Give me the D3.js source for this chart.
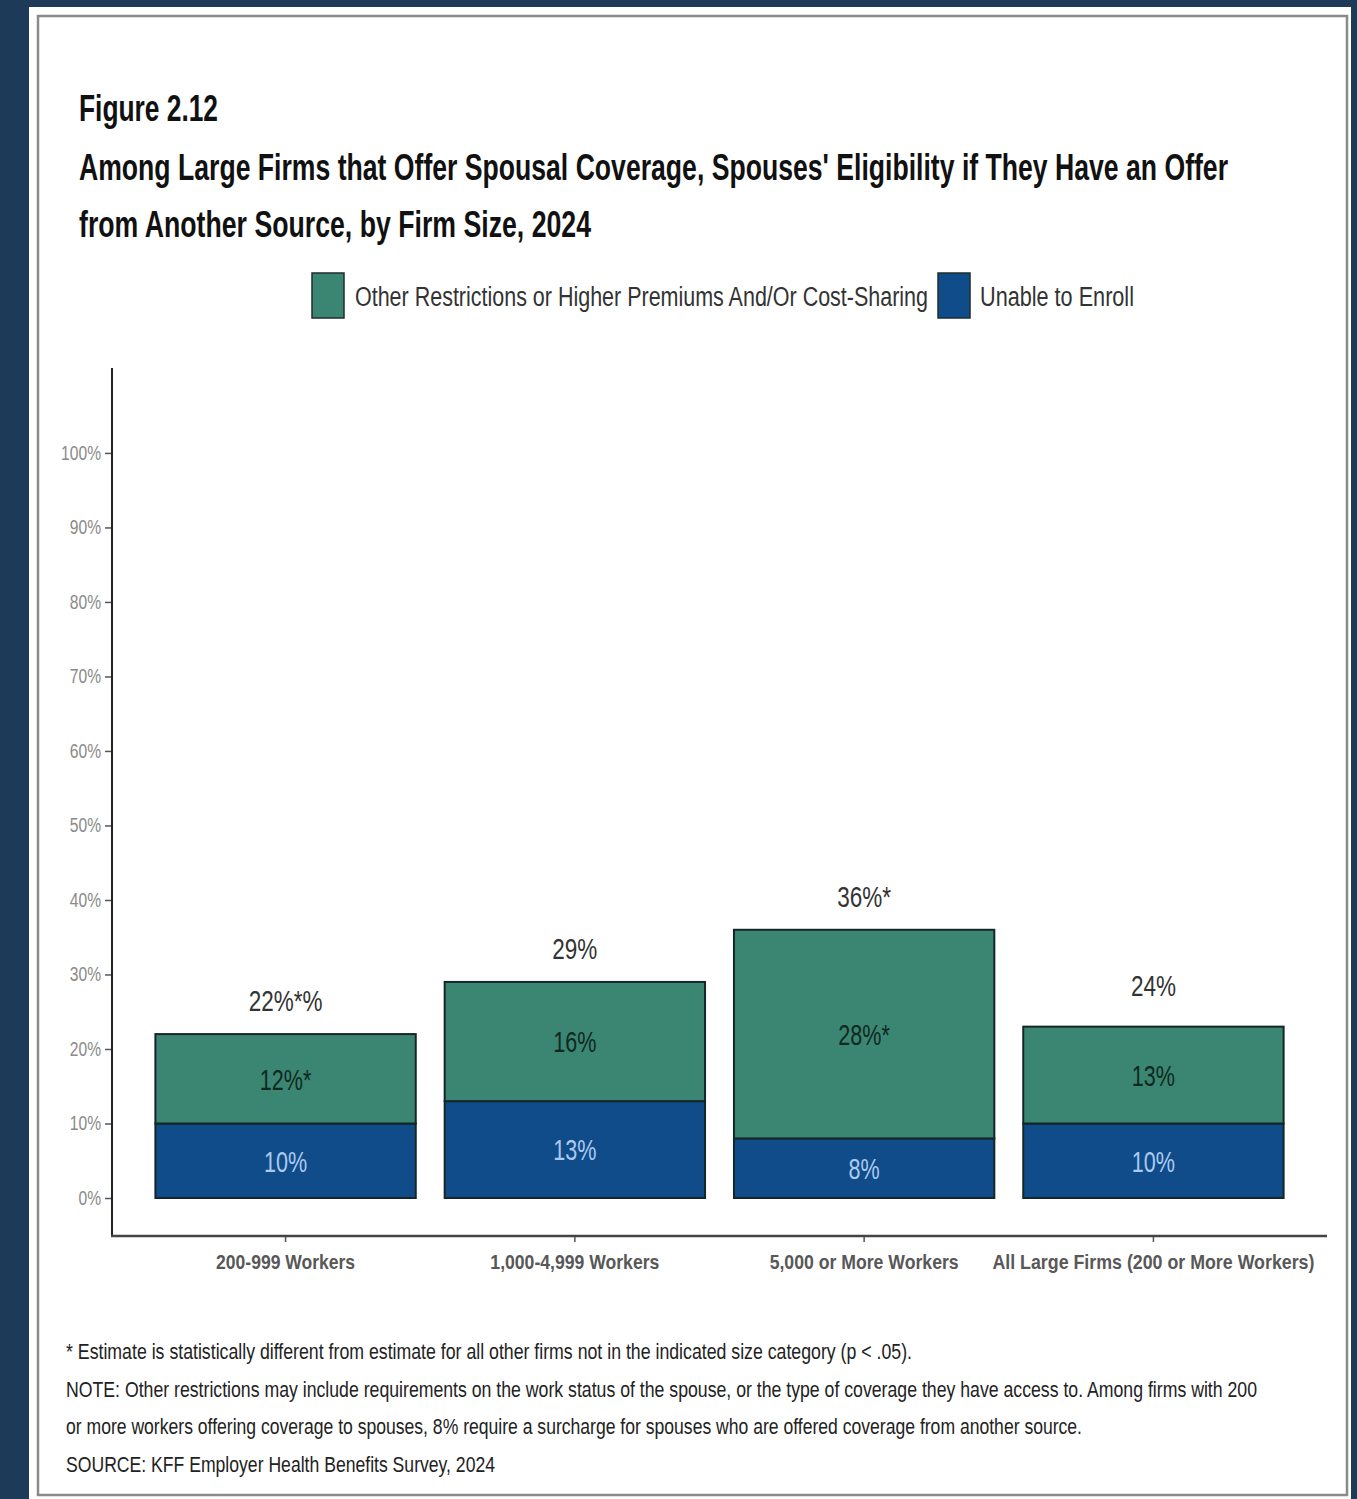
<!DOCTYPE html>
<html>
<head>
<meta charset="utf-8">
<script src="https://cdn.jsdelivr.net/npm/d3@7"></script>
<style>
  body { margin: 0; background: #1d3a58; }
  svg { display: block; }
  text { font-family: "Liberation Sans", Arial, sans-serif; }
</style>
</head>
<body>
<div id="chart"></div>
<script>
var width = 1357, height = 1499;

var categories = ["200-999 Workers", "1,000-4,999 Workers", "5,000 or More Workers", "All Large Firms (200 or More Workers)"];
var seriesNames = ["Other Restrictions or Higher Premiums And/Or Cost-Sharing", "Unable to Enroll"];
var unableValues = [10, 13, 8, 10];
var otherValues = [12, 16, 28, 13];
var unableLabels = ["10%", "13%", "8%", "10%"];
var otherLabels = ["12%*", "16%", "28%*", "13%"];
var totalValues = [22, 29, 36, 24];
var totalLabels = ["22%*%", "29%", "36%*", "24%"];
var yTicks = [0, 10, 20, 30, 40, 50, 60, 70, 80, 90, 100];
var notes = [
  "* Estimate is statistically different from estimate for all other firms not in the indicated size category (p < .05).",
  "NOTE: Other restrictions may include requirements on the work status of the spouse, or the type of coverage they have access to. Among firms with 200",
  "or more workers offering coverage to spouses, 8% require a surcharge for spouses who are offered coverage from another source.",
  "SOURCE: KFF Employer Health Benefits Survey, 2024"
];

var green = "#3b8672", blue = "#114c8a";

// the original uses a narrow face; squeeze glyphs horizontally to imitate it
function squeeze(sel, k) {
  sel.each(function() {
    var w = this.getComputedTextLength();
    d3.select(this).attr("textLength", w * k).attr("lengthAdjust", "spacingAndGlyphs");
  });
}
function fitTo(sel, widths) {
  sel.attr("textLength", (d, i) => widths[i]).attr("lengthAdjust", "spacingAndGlyphs");
}

var svg = d3.select("#chart").append("svg")
  .attr("width", width)
  .attr("height", height);

// white card and inner frame
svg.append("rect").attr("x", 29).attr("y", 7).attr("width", 1322).attr("height", 1500).attr("fill", "#fff");
svg.append("rect").attr("x", 38).attr("y", 16).attr("width", 1309).attr("height", 1479)
  .attr("fill", "none").attr("stroke", "#8a8a8a").attr("stroke-width", 2.5);

// titles
var titles = ["Figure 2.12",
  "Among Large Firms that Offer Spousal Coverage, Spouses' Eligibility if They Have an Offer",
  "from Another Source, by Firm Size, 2024"];
svg.selectAll(".title").data(titles).join("text")
  .attr("class", "title")
  .attr("x", 79)
  .attr("y", (d, i) => [121, 180, 237][i])
  .attr("font-size", 37)
  .attr("font-weight", "bold")
  .attr("fill", "#111")
  .text(d => d)
  .call(fitTo, [139, 1149, 512]);

// legend
var legend = svg.append("g");
var legendItems = [
  {name: seriesNames[0], color: green, x: 312, tx: 355},
  {name: seriesNames[1], color: blue, x: 938, tx: 980}
];
legend.selectAll("rect").data(legendItems).join("rect")
  .attr("x", d => d.x).attr("y", 273).attr("width", 32).attr("height", 45)
  .attr("fill", d => d.color).attr("stroke", "#1e2e2e").attr("stroke-width", 1.5);
legend.selectAll("text").data(legendItems).join("text")
  .attr("x", d => d.tx).attr("y", 306)
  .attr("font-size", 27).attr("fill", "#333")
  .text(d => d.name)
  .call(fitTo, [573, 154]);

// scales
var x = d3.scaleBand()
  .domain(categories)
  .range([112 + 0.6 * 289.3 - 289.3 / 2, 1327 - 0.6 * 289.3 + 289.3 / 2])
  .paddingInner(0.1)
  .paddingOuter(0.05);

var y = d3.scaleLinear()
  .domain([-5.1, 111.4])
  .range([1236, 368]);

var stackData = categories.map((c, i) => ({cat: c, unable: unableValues[i], other: otherValues[i]}));
var stack = d3.stack().keys(["unable", "other"]);
var series = stack(stackData);
var colors = {unable: blue, other: green};

var bars = svg.append("g");
bars.selectAll("g").data(series).join("g")
  .attr("fill", d => colors[d.key])
  .selectAll("rect").data(d => d).join("rect")
  .attr("x", d => x(d.data.cat))
  .attr("y", d => y(d[1]))
  .attr("width", x.bandwidth())
  .attr("height", d => y(d[0]) - y(d[1]))
  .attr("stroke", "#142626")
  .attr("stroke-width", 2);

// segment labels
svg.append("g").selectAll("text").data(stackData).join("text")
  .attr("x", d => x(d.cat) + x.bandwidth() / 2)
  .attr("y", d => y(d.unable / 2))
  .attr("dy", "0.36em")
  .attr("text-anchor", "middle")
  .attr("font-size", 30)
  .attr("fill", "#a9c9ef")
  .text((d, i) => unableLabels[i])
  .call(squeeze, 0.72);

svg.append("g").selectAll("text").data(stackData).join("text")
  .attr("x", d => x(d.cat) + x.bandwidth() / 2)
  .attr("y", d => y(d.unable + d.other / 2))
  .attr("dy", "0.36em")
  .attr("text-anchor", "middle")
  .attr("font-size", 30)
  .attr("fill", "#10291f")
  .text((d, i) => otherLabels[i])
  .call(squeeze, 0.72);

// total labels
svg.append("g").selectAll("text").data(totalValues).join("text")
  .attr("x", (d, i) => x(categories[i]) + x.bandwidth() / 2)
  .attr("y", d => y(d) - 34)
  .attr("dy", "0.36em")
  .attr("text-anchor", "middle")
  .attr("font-size", 30)
  .attr("fill", "#333")
  .text((d, i) => totalLabels[i])
  .call(squeeze, 0.75);

// axes
var yAxis = svg.append("g")
  .attr("transform", "translate(112,0)")
  .call(d3.axisLeft(y).tickValues(yTicks).tickFormat(d => d + "%").tickSize(7).tickPadding(4));
yAxis.select(".domain").remove();
yAxis.selectAll("line").attr("stroke", "#555").attr("stroke-width", 1.5);
yAxis.selectAll("text").attr("font-size", 20).attr("fill", "#8a8a8a").call(squeeze, 0.78);

var xAxis = svg.append("g")
  .attr("transform", "translate(0,1236)")
  .call(d3.axisBottom(x).tickSize(6).tickPadding(12));
xAxis.select(".domain").remove();
xAxis.selectAll("line").attr("stroke", "#555").attr("stroke-width", 1.5);
xAxis.selectAll("text").attr("font-size", 21).attr("fill", "#585858").attr("font-weight", "bold")
  .call(fitTo, [139, 169, 189, 322]);

svg.append("line").attr("x1", 112).attr("x2", 112).attr("y1", 368).attr("y2", 1237)
  .attr("stroke", "#222").attr("stroke-width", 2);
svg.append("line").attr("x1", 111).attr("x2", 1327).attr("y1", 1236).attr("y2", 1236)
  .attr("stroke", "#444").attr("stroke-width", 2.5);

// notes
svg.append("g").selectAll("text").data(notes).join("text")
  .attr("x", 66)
  .attr("y", (d, i) => 1359 + i * 37.5)
  .attr("font-size", 22)
  .attr("fill", "#222")
  .text(d => d)
  .call(fitTo, [846, 1191, 1016, 429]);
</script>
</body>
</html>
